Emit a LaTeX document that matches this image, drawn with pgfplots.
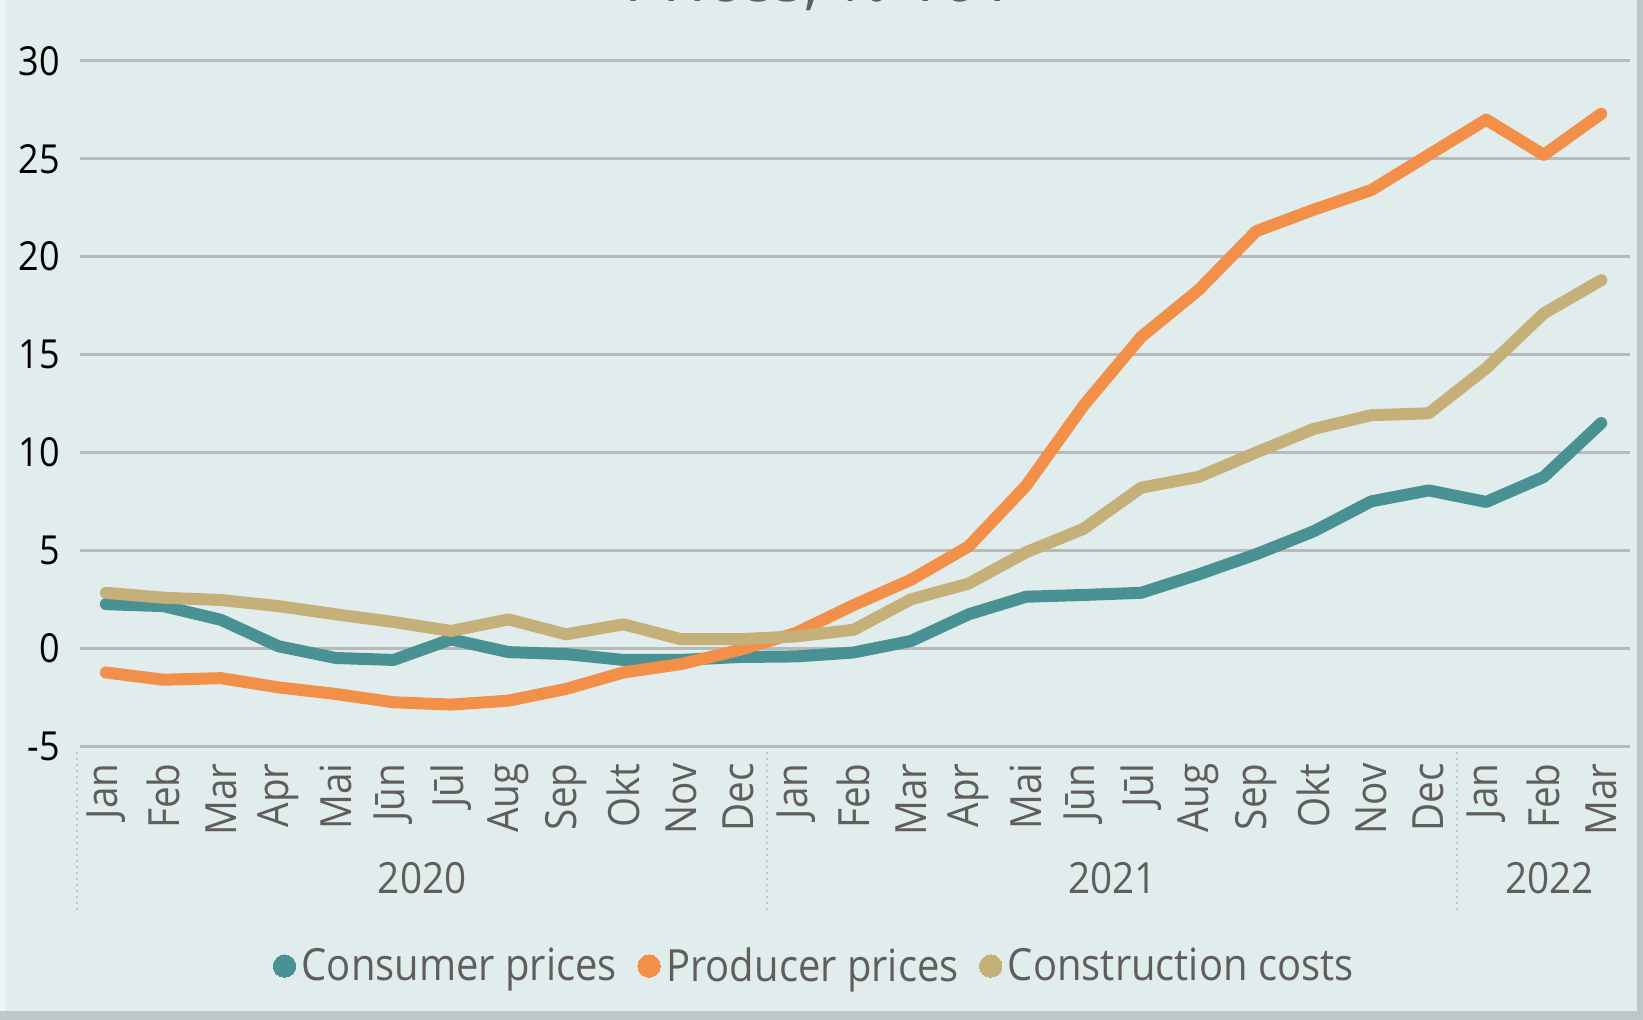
\documentclass[border=0pt]{standalone}
\usepackage{pgfplots}
\pgfplotsset{compat=1.18}
\usepackage{fontspec}
\setmainfont[FakeStretch=0.9]{Open Sans}
\definecolor{bg}{RGB}{225,237,236}
\definecolor{edgegray}{RGB}{190,199,199}
\definecolor{leftedge}{RGB}{238,243,243}
\definecolor{textgray}{RGB}{96,94,92}
\definecolor{gridgray}{RGB}{182,186,186}
\definecolor{sepgray}{RGB}{195,198,198}
\definecolor{cteal}{RGB}{74,145,148}
\definecolor{corange}{RGB}{242,143,72}
\definecolor{ctan}{RGB}{197,176,122}
\begin{document}
\begin{tikzpicture}
\path[use as bounding box] (0,0) rectangle (821.5pt,510pt);
\fill[bg] (0,0) rectangle (821.5pt,510pt);
\fill[leftedge] (0,0) rectangle (3pt,510pt);
\fill[edgegray] (818.5pt,0) rectangle (821.5pt,510pt);
\fill[edgegray] (0,0) rectangle (821.5pt,4.5pt);
\begin{scope}
\clip (0,0) rectangle (821.5pt,510pt);
\node[anchor=base, inner sep=0pt, text=textgray, font=\fontsize{36}{40}\selectfont] at (410pt,509pt) {Prices, \% YoY};
\end{scope}
\begin{axis}[
  width=775pt, height=342.6pt, scale only axis,
  at={(40pt,136.95pt)}, anchor=south west,
  xmin=-0.45, xmax=26.5, ymin=-5, ymax=30,
  axis line style={draw=none},
  major tick length=0pt,
  ymajorgrids, grid style={line width=1.5pt, color=gridgray},
  ytick={-5,0,5,10,15,20,25,30},
  xtick={0,...,26},
  xticklabels={Jan,Feb,Mar,Apr,Mai,Jūn,Jūl,Aug,Sep,Okt,Nov,Dec,Jan,Feb,Mar,Apr,Mai,Jūn,Jūl,Aug,Sep,Okt,Nov,Dec,Jan,Feb,Mar},
  xticklabel style={rotate=90, anchor=east, inner sep=0pt, text=textgray, font=\fontsize{21.5}{24}\selectfont},
  xticklabel shift=8.5pt,
  yticklabel style={anchor=east, inner sep=0pt, text=black, font=\fontsize{20}{24}\selectfont},
  yticklabel shift=10pt,
  /pgf/number format/assume math mode=true,
  clip=false,
  legend columns=3,
  legend style={draw=none, fill=none, at={(0.4748,-0.321)}, anchor=center,
    font=\fontsize{22.2}{24}\selectfont, text=textgray,
    /tikz/every odd column/.append style={column sep=0.5pt},
    /tikz/every even column/.append style={column sep=8pt},
    nodes={inner sep=2.5pt}},
  legend image code/.code={\fill[line width=0pt] (5.5pt,0pt) circle (5.6pt);},
  every axis plot/.append style={line width=6pt, line cap=round, line join=round, mark=none},
]
\addplot[color=cteal] coordinates {
(0,2.25) (1,2.15) (2,1.45) (3,0.1) (4,-0.5) (5,-0.6) (6,0.45) (7,-0.2) (8,-0.3) (9,-0.6) (10,-0.6) (11,-0.45)
(12,-0.42) (13,-0.22) (14,0.37) (15,1.73) (16,2.63) (17,2.72) (18,2.83) (19,3.77) (20,4.8) (21,5.97) (22,7.5) (23,8.06)
(24,7.47) (25,8.75) (26,11.5)};
\addlegendentry{Consumer prices}
\addplot[color=corange] coordinates {
(0,-1.24) (1,-1.61) (2,-1.53) (3,-2.0) (4,-2.34) (5,-2.76) (6,-2.88) (7,-2.68) (8,-2.08) (9,-1.24) (10,-0.81) (11,-0.1)
(12,0.78) (13,2.2) (14,3.5) (15,5.2) (16,8.3) (17,12.4) (18,15.9) (19,18.3) (20,21.3) (21,22.4) (22,23.4) (23,25.2)
(24,27.0) (25,25.2) (26,27.3)};
\addlegendentry{Producer prices}
\addplot[color=ctan] coordinates {
(0,2.83) (1,2.58) (2,2.46) (3,2.15) (4,1.73) (5,1.34) (6,0.88) (7,1.47) (8,0.71) (9,1.22) (10,0.46) (11,0.46)
(12,0.6) (13,0.94) (14,2.5) (15,3.3) (16,4.9) (17,6.1) (18,8.2) (19,8.75) (20,10.0) (21,11.2) (22,11.9) (23,12.0)
(24,14.3) (25,17.1) (26,18.8)};
\addlegendentry{Construction costs}
\foreach \xs in {-0.5,11.5,23.5} {
  \edef\temp{\noexpand\draw[sepgray, line width=1pt, dotted] ([yshift=-3pt]axis cs:\xs,-5) -- ([yshift=-83pt]axis cs:\xs,-5);}
  \temp
}
\node[text=textgray, inner sep=0pt, font=\fontsize{21.5}{24}\selectfont] at ([yshift=-65.95pt]axis cs:5.5,-5) {2020};
\node[text=textgray, inner sep=0pt, font=\fontsize{21.5}{24}\selectfont] at ([yshift=-65.95pt]axis cs:17.5,-5) {2021};
\node[text=textgray, inner sep=0pt, font=\fontsize{21.5}{24}\selectfont] at ([yshift=-65.95pt]axis cs:25.1,-5) {2022};
\end{axis}
\end{tikzpicture}
\end{document}
